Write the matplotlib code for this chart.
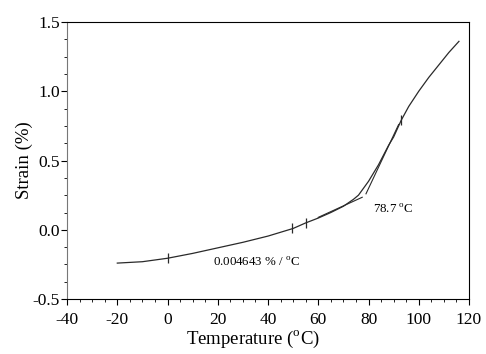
import matplotlib
matplotlib.use('Agg')
import matplotlib.pyplot as plt
from matplotlib.ticker import MultipleLocator, FormatStrFormatter

plt.rcParams['font.family'] = ['Liberation Serif', 'DejaVu Serif']
plt.rcParams['mathtext.fontset'] = 'custom'
plt.rcParams['mathtext.rm'] = 'Liberation Serif'
plt.rcParams['axes.unicode_minus'] = False

# measured strain curve
temp = [-20, -10, 0, 10, 20, 30, 40, 50, 55, 60, 65, 70, 74, 76, 78, 80,
        82, 84, 86, 88, 90, 93, 96, 100, 104, 108, 112, 116]
strain = [-0.24, -0.23, -0.205, -0.17, -0.13, -0.09, -0.045, 0.01, 0.05, 0.085,
          0.125, 0.17, 0.22, 0.25, 0.30, 0.35, 0.41, 0.47, 0.54, 0.61, 0.67,
          0.79, 0.89, 1.0, 1.1, 1.19, 1.28, 1.36]

# tangent lines around the transition
tan_low_x = [60, 77.5]
tan_low_y = [0.09, 0.235]
tan_high_x = [79, 92]
tan_high_y = [0.26, 0.76]

# cursor marks on the curve
mark_x = [0, 49.5, 55, 93]
mark_y = [-0.205, 0.01, 0.05, 0.79]

fig = plt.figure(figsize=(4.86, 3.54), dpi=100)
ax = fig.add_axes([0.138, 0.155, 0.827, 0.783])

ax.plot(temp, strain, color='#2a2a2a', lw=0.9)
ax.plot(tan_low_x, tan_low_y, color='#2a2a2a', lw=0.8)
ax.plot(tan_high_x, tan_high_y, color='#2a2a2a', lw=0.8)
ax.plot(mark_x, mark_y, ls='none', marker='|', ms=7, mew=0.9, color='#2a2a2a')

ax.text(81.8, 0.146, '78.7 $^{\\rm o}$C', fontsize=9.3, va='center')
ax.text(18, -0.237, '0.004643 % / $^{\\rm o}$C', fontsize=9.3, va='center')

ax.set_xlim(-40, 120)
ax.set_ylim(-0.5, 1.5)
ax.xaxis.set_major_locator(MultipleLocator(20))
ax.xaxis.set_minor_locator(MultipleLocator(5))
ax.yaxis.set_major_locator(MultipleLocator(0.5))
ax.yaxis.set_minor_locator(MultipleLocator(0.125))
ax.yaxis.set_major_formatter(FormatStrFormatter('%.1f'))
ax.tick_params(which='major', direction='out', length=4, width=0.8, labelsize=12.5)
ax.tick_params(which='minor', direction='out', length=2.5, width=0.6)
ax.tick_params(axis='x', which='major', pad=5)
ax.tick_params(axis='y', which='major', pad=1)

ax.spines['left'].set_color('#777777')
for s in ['top', 'right', 'bottom']:
    ax.spines[s].set_color('black')

ax.set_xlabel('Temperature ($^{\\rm o}$C)', fontsize=13.5)
ax.set_ylabel('Strain (%)', fontsize=13.5)
ax.xaxis.set_label_coords(0.463, -0.108)
ax.yaxis.set_label_coords(-0.085, 0.5)

fig.savefig('out.png', dpi=100)
